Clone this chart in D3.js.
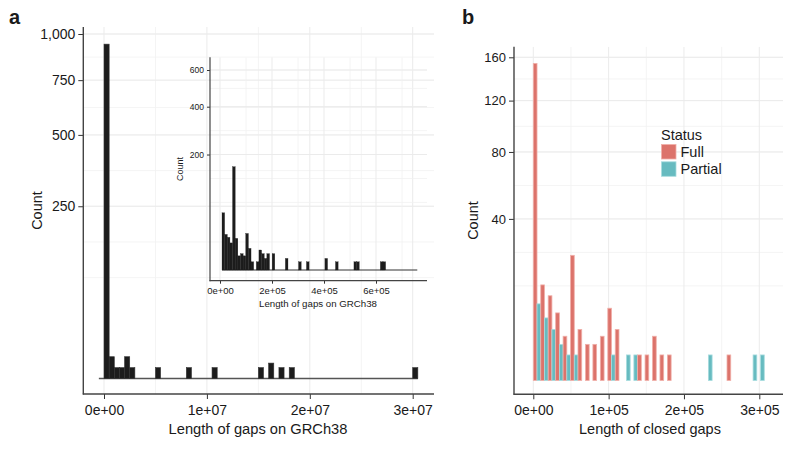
<!DOCTYPE html>
<html><head><meta charset="utf-8">
<script src="https://cdn.jsdelivr.net/npm/d3@7"></script>
<style>
body{margin:0;background:#fff}
text{font-family:"Liberation Sans",Arial,Helvetica,sans-serif;fill:#1a1a1a}
</style></head>
<body><svg id="c" width="800" height="451"></svg>
<script>
// ---------- data ----------
// Panel a: histogram of gap lengths on GRCh38 (binwidth 5e5)
const gapBinWidth = 5e5;
const gapBinStart = [0, 5e5, 1e6, 1.5e6, 2e6, 2.5e6, 5e6, 8e6, 1.05e7, 1.5e7, 1.6e7, 1.7e7, 1.8e7, 3e7];
const gapCount    = [942, 4, 1, 1, 4, 1, 1, 1, 1, 1, 2, 1, 1, 1];
const gapExtent   = [-5e5, 3.05e7];
const gapYTicks   = [250, 500, 750, 1000];
const gapXTicks   = [0, 1e7, 2e7, 3e7];

// Inset: gaps zoomed to < 7.5e5
const insetBinOffset = 7700;
const insetBinWidth  = 10150;
const insetBinTotal  = 74;
const insetBinIdx   = [0,1,2,3,4,5,6,7,8,9,10,11,13,14,15,16,17,19,24,29,32,39,43,50,51,60,61];
const insetCount    = [49,19,16,11,160,15,3,4,3,20,7,1,1,6,4,2,4,4,2,1,1,2,1,1,1,1,1];
const insetYTicks   = [200, 400, 600];
const insetXTicks   = [0, 2e5, 4e5, 6e5];

// Panel b: closed gaps by status (dodged, binwidth ~1e4)
const closedBinWidth = 9890;
const closedBinFirst = -1, closedBinLast = 31;
const fullIdx      = [0,1,2,3,4,5,6,7,8,9,10,11,14,15,16,17,18,26];
const fullCount    = [154,14,11,7,3,24,4,2,2,3,8,4,1,1,3,1,1,1];
const partialIdx   = [0,1,2,3,4,5,10,12,13,23,29,30];
const partialCount = [9,6,4,2,1,1,1,1,1,1,1,1];
const closedYTicks = [40, 80, 120, 160];
const closedXTicks = [0, 1e5, 2e5, 3e5];
const statusLabels = ["Full", "Partial"];
const statusColors = ["#DC736B", "#67BBC0"];
const statusStroke = ["#F0B0AA", "#A8DCDF"];

// ---------- helpers ----------
const svg = d3.select("#c");
const sciFmt = v => {
  if (v === 0) return "0e+00";
  const e = Math.floor(Math.log10(v)); const m = v / Math.pow(10, e);
  return m + "e+" + String(e).padStart(2, "0");
};
function minorSqrt(ticks, lo, hi) {
  let b = ticks.map(Math.sqrt); const bd = b[1] - b[0];
  if (lo < b[0]) b = [b[0] - bd, ...b];
  if (hi > b[b.length - 1]) b = [...b, b[b.length - 1] + bd];
  const out = [];
  for (let i = 0; i < b.length - 1; i++) { out.push(b[i], (b[i] + b[i + 1]) / 2); }
  return out.filter(s => s >= lo && s <= hi && s >= 0).map(s => s * s);
}
function minorLin(ticks, lo, hi) {
  let b = ticks.slice(); const bd = b[1] - b[0];
  if (lo < b[0]) b = [b[0] - bd, ...b];
  if (hi > b[b.length - 1]) b = [...b, b[b.length - 1] + bd];
  const out = [];
  for (let i = 0; i < b.length - 1; i++) out.push((b[i] + b[i + 1]) / 2);
  return out.filter(v => v >= lo && v <= hi);
}
function panel(opt) {
  const {x, y, L, R, T, B, xTicks, yTicks, fs, fsY, tick, padX, fsTitle} = opt;
  const g = svg.append("g");
  const id = "clip" + Math.round(L) + Math.round(T);
  svg.append("clipPath").attr("id", id).append("rect")
    .attr("x", L).attr("y", T).attr("width", R - L).attr("height", B - T);
  const grid = g.append("g").attr("clip-path", `url(#${id})`);
  const xlo = x.invert(L), xhi = x.invert(R);
  const sLo = 0, sHi = Math.sqrt(y.invert(T));
  // minor grid
  minorLin(xTicks, xlo, xhi).forEach(v => grid.append("line").attr("x1", x(v)).attr("x2", x(v))
    .attr("y1", T).attr("y2", B).attr("stroke", "#f1f1f1").attr("stroke-width", 0.8));
  minorSqrt(yTicks, -1, sHi).forEach(v => grid.append("line").attr("y1", y(v)).attr("y2", y(v))
    .attr("x1", L).attr("x2", R).attr("stroke", "#f1f1f1").attr("stroke-width", 0.8));
  // major grid
  xTicks.forEach(v => grid.append("line").attr("x1", x(v)).attr("x2", x(v))
    .attr("y1", T).attr("y2", B).attr("stroke", "#ebebeb").attr("stroke-width", 1));
  yTicks.forEach(v => grid.append("line").attr("y1", y(v)).attr("y2", y(v))
    .attr("x1", L).attr("x2", R).attr("stroke", "#ebebeb").attr("stroke-width", 1));
  const marks = g.append("g");
  // axes
  const ax = g.append("g").attr("transform", `translate(0,${B})`)
    .call(d3.axisBottom(x).tickValues(xTicks).tickFormat(sciFmt).tickSize(tick).tickPadding(padX));
  ax.select(".domain").remove();
  ax.selectAll("text").style("font-size", fs + "px").style("fill", "#1a1a1a");
  ax.selectAll("line").attr("stroke", "#333");
  const ay = g.append("g").attr("transform", `translate(${L},0)`)
    .call(d3.axisLeft(y).tickValues(yTicks).tickFormat(d3.format(",")).tickSize(tick).tickPadding(3));
  ay.select(".domain").remove();
  ay.selectAll("text").style("font-size", fsY + "px").style("fill", "#1a1a1a");
  ay.selectAll("line").attr("stroke", "#333");
  g.append("line").attr("x1", L).attr("x2", L).attr("y1", T).attr("y2", B + 0.5)
    .attr("stroke", "#444").attr("stroke-width", opt.axW || 1.4);
  g.append("line").attr("x1", L - 0.5).attr("x2", R).attr("y1", B).attr("y2", B)
    .attr("stroke", "#444").attr("stroke-width", opt.axW || 1.4);
  return marks;
}

// ---------- panel a ----------
const xa = d3.scaleLinear().domain([0, 3e7]).range([104, 412.7]);
const ya = d3.scaleSqrt().domain([0, 1000]).range([378.5, 34]);
const ma = panel({x: xa, y: ya, L: 83.3, R: 434, T: 27, B: 394, xTicks: gapXTicks, yTicks: gapYTicks,
  fs: 14, fsY: 14, tick: 5, padX: 6});
ma.append("line").attr("x1", xa(gapExtent[0])).attr("x2", xa(gapExtent[1]))
  .attr("y1", ya(0)).attr("y2", ya(0)).attr("stroke", "#555").attr("stroke-width", 1.3);
ma.selectAll("rect.a").data(gapBinStart.map((s, i) => ({s, c: gapCount[i]}))).join("rect")
  .attr("x", d => xa(d.s)).attr("width", d => xa(d.s + gapBinWidth) - xa(d.s))
  .attr("y", d => ya(d.c)).attr("height", d => ya(0) - ya(d.c))
  .attr("fill", "#1c1c1c").attr("stroke", "#333").attr("stroke-width", 0.6);
svg.append("text").attr("x", 41.5).attr("y", 210.5).attr("transform", "rotate(-90,41.5,210.5)")
  .attr("text-anchor", "middle").style("font-size", "14.5px").text("Count");
svg.append("text").attr("x", 258).attr("y", 433.5).attr("text-anchor", "middle")
  .style("font-size", "14.7px").text("Length of gaps on GRCh38");
svg.append("text").attr("x", 9).attr("y", 24).style("font-size", "20px").style("font-weight", "bold").text("a");

// ---------- inset ----------
const xi = d3.scaleLinear().domain([0, 6e5]).range([220, 376]);
const yi = d3.scaleSqrt().domain([0, 600]).range([270, 70]);
const mi = panel({x: xi, y: yi, L: 210, R: 427, T: 57.3, B: 280.7, xTicks: insetXTicks, yTicks: insetYTicks,
  fs: 9.5, fsY: 8.5, tick: 3, padX: 3.5, axW: 1.2});
mi.append("line").attr("x1", xi(insetBinOffset)).attr("x2", xi(insetBinOffset + insetBinTotal * insetBinWidth))
  .attr("y1", yi(0)).attr("y2", yi(0)).attr("stroke", "#333").attr("stroke-width", 1.1);
mi.selectAll("rect.i").data(insetBinIdx.map((k, i) => ({s: insetBinOffset + k * insetBinWidth, c: insetCount[i]}))).join("rect")
  .attr("x", d => xi(d.s)).attr("width", d => xi(d.s + insetBinWidth) - xi(d.s))
  .attr("y", d => yi(d.c)).attr("height", d => yi(0) - yi(d.c))
  .attr("fill", "#1c1c1c").attr("stroke", "#1c1c1c").attr("stroke-width", 0.3);
svg.append("text").attr("x", 183).attr("y", 169).attr("transform", "rotate(-90,183,169)")
  .attr("text-anchor", "middle").style("font-size", "9px").text("Count");
svg.append("text").attr("x", 318).attr("y", 307).attr("text-anchor", "middle")
  .style("font-size", "9.7px").text("Length of gaps on GRCh38");

// ---------- panel b ----------
const xb = d3.scaleLinear().domain([0, 3e5]).range([533.3, 759.3]);
const yb = d3.scaleSqrt().domain([0, 160]).range([380.5, 57.3]);
const mb = panel({x: xb, y: yb, L: 514, R: 783, T: 46.7, B: 394.3, xTicks: closedXTicks, yTicks: closedYTicks,
  fs: 14, fsY: 13, tick: 5, padX: 6});
const halves = [];
for (let k = closedBinFirst; k <= closedBinLast; k++) {
  const fi = fullIdx.indexOf(k), pi = partialIdx.indexOf(k);
  halves.push({s: k * closedBinWidth, c: fi >= 0 ? fullCount[fi] : 0, g: 0});
  halves.push({s: k * closedBinWidth + closedBinWidth / 2, c: pi >= 0 ? partialCount[pi] : 0, g: 1});
}
mb.selectAll("rect.b").data(halves).join("rect")
  .attr("x", d => xb(d.s)).attr("width", d => xb(d.s + closedBinWidth / 2) - xb(d.s))
  .attr("y", d => yb(d.c)).attr("height", d => yb(0) - yb(d.c))
  .attr("fill", d => statusColors[d.g]).attr("stroke", d => statusStroke[d.g]).attr("stroke-width", 0.8);
svg.append("text").attr("x", 478).attr("y", 220.5).attr("transform", "rotate(-90,478,220.5)")
  .attr("text-anchor", "middle").style("font-size", "14.5px").text("Count");
svg.append("text").attr("x", 650).attr("y", 433.5).attr("text-anchor", "middle")
  .style("font-size", "14.5px").text("Length of closed gaps");
svg.append("text").attr("x", 462).attr("y", 24).style("font-size", "20px").style("font-weight", "bold").text("b");

// legend
const lg = svg.append("g");
lg.append("text").attr("x", 661).attr("y", 140).style("font-size", "14.5px").text("Status");
statusLabels.forEach((lab, i) => {
  lg.append("rect").attr("x", 661.5).attr("y", 144.5 + i * 17.3).attr("width", 14.5).attr("height", 14.5)
    .attr("fill", statusColors[i]).attr("stroke", statusStroke[i]).attr("stroke-width", 0.8);
  lg.append("text").attr("x", 680.5).attr("y", 156.8 + i * 17.3).style("font-size", "14.5px").text(lab);
});
</script></body></html>
